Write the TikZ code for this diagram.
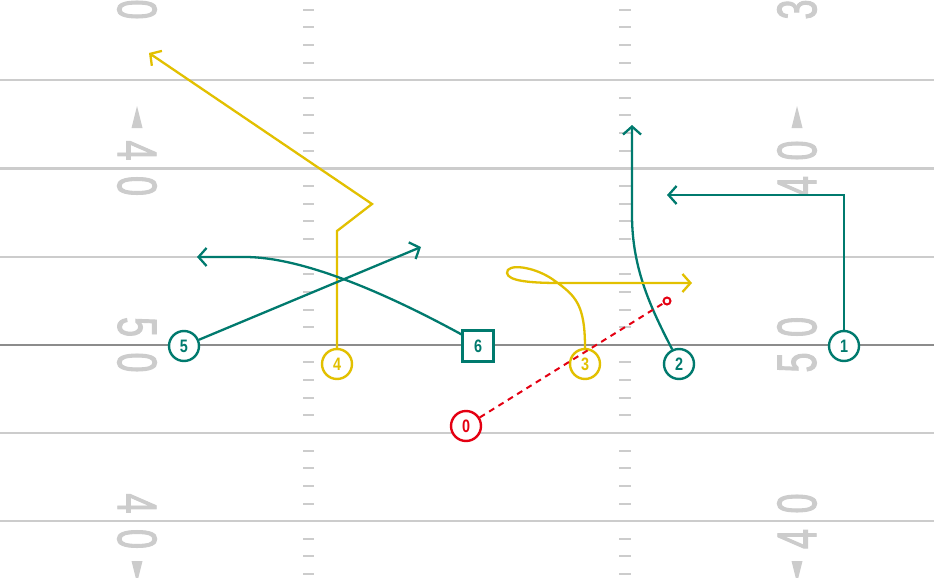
\documentclass[tikz,border=0pt]{standalone}
\usepackage{fontspec}
\newfontfamily\yardfont[FakeStretch=0.64, FakeBold=1.6]{Liberation Sans}
\newfontfamily\playerfont[FakeStretch=0.8]{Liberation Sans}
\usetikzlibrary{arrows.meta}
\definecolor{offteal}{RGB}{0,122,110}
\definecolor{offgold}{RGB}{226,192,0}
\definecolor{qbred}{RGB}{228,0,18}
\definecolor{fieldgrey}{RGB}{204,204,204}
\definecolor{midgrey}{RGB}{140,140,140}

\begin{document}
\begin{tikzpicture}[x=1pt, y=-1pt,
                    player/.style={draw, circle, line width=2.4pt, fill=white,
                                   minimum size=30pt, inner sep=0pt,
                                   font=\playerfont\bfseries\fontsize{18}{18}\selectfont},
                    tealplayer/.style={player, draw=offteal, text=offteal},
                    goldplayer/.style={player, draw=offgold, text=offgold},
                    snapper/.style={tealplayer, rectangle, minimum size=31pt},
                    route/.style={line width=2.3pt},
                    yardline/.style={draw=fieldgrey, line width=2.2pt},
                    hash/.style={draw=fieldgrey, line width=2pt},
                    yardnum/.style={text=fieldgrey, inner sep=0pt,
                                    font=\yardfont\fontsize{56}{56}\selectfont},
                    >={Straight Barb[length=8pt, width=18pt]}]
	\fill[white] (0,0) rectangle (934,578);
	\useasboundingbox (0,0) rectangle (934,578);

	% field
	\foreach \k in {1,2,3,5,6}
		\draw[yardline] (0,{-8+88.2*\k}) -- (934,{-8+88.2*\k});
	\draw[midgrey, line width=1.8pt] (0,344.8) -- (934,344.8);
	\foreach \k in {0,...,6}
		\foreach \j in {1,...,4} {
			\draw[hash] (303,{-8+88.2*\k+17.64*\j}) -- ++(11,0);
			\draw[hash] (619,{-8+88.2*\k+17.64*\j}) -- ++(12,0);
		}

	\node[yardnum, rotate=-90] (l30) at (137, 9.5) {0};
	\node[yardnum, rotate=-90] (l40a) at (137, 150.5) {4};
	\node[yardnum, rotate=-90] (l40b) at (137, 186) {0};
	\node[yardnum, rotate=-90] (l50a) at (137, 327) {5};
	\node[yardnum, rotate=-90] (l50b) at (137, 362.5) {0};
	\node[yardnum, rotate=-90] (l40c) at (137, 503.5) {4};
	\node[yardnum, rotate=-90] (l40d) at (137, 539) {0};
	\node[yardnum, rotate=90] (r30) at (797, 9.5) {3};
	\node[yardnum, rotate=90] (r40a) at (797, 150.5) {0};
	\node[yardnum, rotate=90] (r40b) at (797, 186) {4};
	\node[yardnum, rotate=90] (r50a) at (797, 327) {0};
	\node[yardnum, rotate=90] (r50b) at (797, 362.5) {5};
	\node[yardnum, rotate=90] (r40c) at (797, 503.5) {0};
	\node[yardnum, rotate=90] (r40d) at (797, 539) {4};

	\fill[fieldgrey] (137,106) -- (131.5,128) -- (142.5,128) -- cycle;
	\fill[fieldgrey] (797,106) -- (791.5,128) -- (802.5,128) -- cycle;
	\fill[fieldgrey] (137,583) -- (131.5,561) -- (142.5,561) -- cycle;
	\fill[fieldgrey] (797,583) -- (791.5,561) -- (802.5,561) -- cycle;

	% players
	\node[tealplayer] (p1) at (844, 346) {1};
	\node[tealplayer] (p2) at (679, 364) {2};
	\node[goldplayer] (p3) at (585, 364) {3};
	\node[goldplayer] (p4) at (337, 364) {4};
	\node[tealplayer] (p5) at (184, 346) {5};
	\node[snapper] (p6) at (478, 346) {6};
	\node[player, draw=qbred, text=qbred] (p0) at (466, 426) {0};
	\node[draw=qbred, circle, fill=white, line width=2pt, minimum size=7pt,
	      inner sep=0pt] (target) at (667, 301) {};

	% routes
	\path[route, draw=offteal, ->] (p1.north) -- (844,195) -- (667,195);
	\path[route, draw=offteal, ->] (p2.115) .. controls (652,310) and (632,270) .. (632,215) -- (632,125);
	\path[route, draw=offgold, ->] (p3.north) .. controls (585,305) and (576,296) .. (555,281)
	                                   .. controls (535,266) and (506,263) .. (507,273)
	                                   .. controls (508,281) and (530,283) .. (560,283) -- (692,283);
	\path[route, draw=offgold, ->] (p4.north) -- (337,231) -- (372,204) -- (149,53);
	\path[route, draw=offteal, ->] (p5) -- (421,247);
	\path[route, draw=offteal, ->] (p6.145) .. controls (380,290) and (300,257) .. (245,257) -- (197,257);
	\path[route, draw=qbred, line width=2pt, dash pattern=on 6pt off 5pt] (p0) -- (target);

\end{tikzpicture}
\end{document}
